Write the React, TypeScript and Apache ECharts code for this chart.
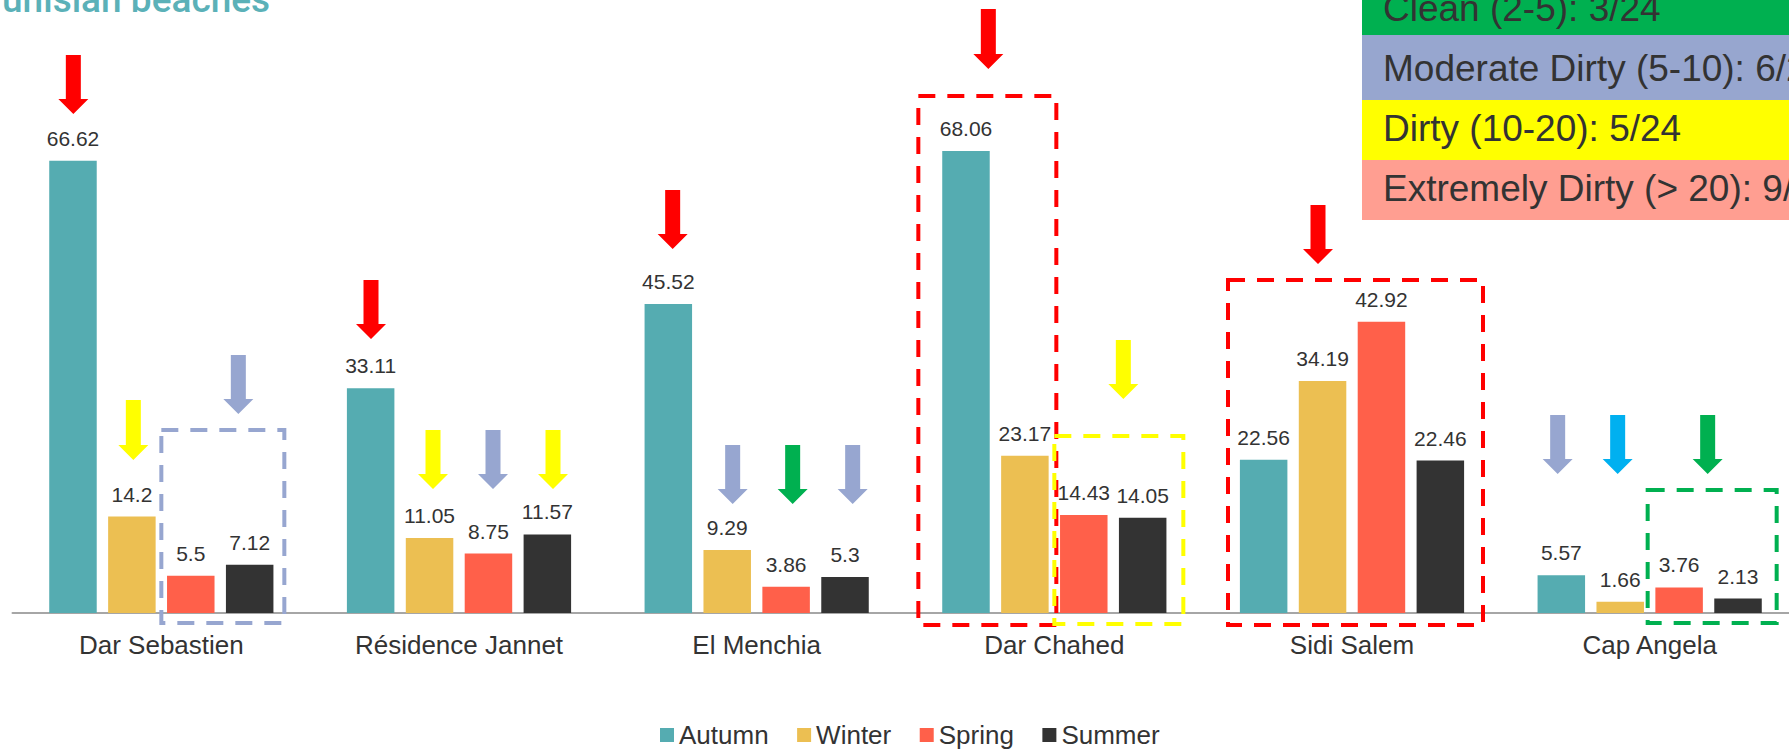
import React, { useEffect, useRef } from "react";
import * as echarts from "echarts";

const categories = ["Dar Sebastien", "Résidence Jannet", "El Menchia", "Dar Chahed", "Sidi Salem", "Cap Angela"];
const seasons = ["Autumn", "Winter", "Spring", "Summer"];
const autumn = [66.62, 33.11, 45.52, 68.06, 22.56, 5.57];
const winter = [14.2, 11.05, 9.29, 23.17, 34.19, 1.66];
const spring = [5.5, 8.75, 3.86, 14.43, 42.92, 3.76];
const summer = [7.12, 11.57, 5.3, 14.05, 22.46, 2.13];
const seasonValues = [autumn, winter, spring, summer];
const seasonColors = ["#55ACB1", "#ECBF52", "#FF604A", "#333333"];

const titleText = "Tunisian beaches";
const classLabels = [
  "Clean (2-5): 3/24",
  "Moderate Dirty (5-10): 6/24",
  "Dirty (10-20): 5/24",
  "Extremely Dirty (> 20): 9/24",
];
const classColors = ["#00B050", "#97A6CF", "#FFFF00", "#FF9E91"];

const RED = "#FF0000";
const YELLOW = "#FFFF00";
const PURPLE = "#97A6D0";
const GREEN = "#00B050";
const CYAN = "#00B0F0";

// arrows: category index, x offset from category centre, top y, tip y, colour
const arrows: [number, number, number, number, string][] = [
  [0, -88, 55, 114, RED],
  [0, -28, 400, 460, YELLOW],
  [0, 77, 355, 414, PURPLE],
  [1, -88, 280, 339, RED],
  [1, -26, 430, 489, YELLOW],
  [1, 34, 430, 489, PURPLE],
  [1, 94, 430, 489, YELLOW],
  [2, -84, 190, 249, RED],
  [2, -24, 445, 504, PURPLE],
  [2, 36, 445, 504, GREEN],
  [2, 96, 445, 504, PURPLE],
  [3, -66, 9, 69, RED],
  [3, 69, 340, 399, YELLOW],
  [4, -34, 205, 264, RED],
  [5, -92, 415, 474, PURPLE],
  [5, -32, 415, 474, CYAN],
  [5, 58, 415, 474, GREEN],
];

// dashed boxes: category index, left / right offsets from category centre, top, bottom, colour
const boxes: [number, number, number, number, number, string][] = [
  [0, 0, 123, 430, 623, PURPLE],
  [3, -136, 2, 96, 625, RED],
  [3, 0, 129, 436, 624, YELLOW],
  [4, -124, 131, 280, 625, RED],
  [5, -2, 127, 490, 623, GREEN],
];

const FONT = "'Liberation Sans', Arial, sans-serif";

export default function App() {
  const ref = useRef<HTMLDivElement>(null);
  useEffect(() => {
    if (!ref.current) return;
    const chart = echarts.init(ref.current, undefined, { renderer: "svg" });
    chart.setOption({
      animation: false,
      backgroundColor: "#ffffff",
      grid: {
        left: 12.5,
        width: 1786,
        top: 70,
        bottom: 137,
        containLabel: false,
        outerBoundsMode: "none",
      },
      legend: {
        data: seasons,
        left: 660,
        top: 722,
        padding: 0,
        icon: "rect",
        itemWidth: 14,
        itemHeight: 14,
        itemGap: 28.5,
        textStyle: { fontSize: 26, color: "#333333", fontFamily: FONT },
      },
      xAxis: {
        type: "category",
        data: categories,
        axisLine: { lineStyle: { color: "#A6A6A6", width: 2 } },
        axisTick: { show: false },
        axisLabel: { fontSize: 26, color: "#333333", margin: 19, fontFamily: FONT, interval: 0 },
      },
      yAxis: { type: "value", min: 0, max: 80, show: false, splitLine: { show: false } },
      series: seasons.map((name, i) => ({
        name,
        type: "bar",
        data: seasonValues[i],
        barWidth: 47.5,
        barGap: "24%",
        itemStyle: { color: seasonColors[i] },
        label: {
          show: true,
          position: "top",
          distance: 12,
          fontSize: 21,
          color: "#333333",
          fontFamily: FONT,
        },
      })),
    });

    const cx = (i: number) => chart.convertToPixel({ xAxisIndex: 0 }, categories[i]) as number;
    const graphics: any[] = [];
    graphics.push({
      type: "text",
      x: -19,
      y: -1,
      z: 20,
      style: {
        text: titleText,
        fill: "#5BB1B8",
        fontSize: 37,
        fontWeight: 500,
        fontFamily: "Roboto, 'Open Sans', sans-serif",
        align: "left",
        verticalAlign: "middle",
      },
    });
    const boxTops = [-30, 35, 100, 160];
    const boxBottoms = [35, 100, 160, 220];
    const baselines = [21.7, 81.7, 141.7, 201.7];
    classLabels.forEach((t, i) => {
      graphics.push({
        type: "rect",
        z: 20,
        shape: { x: 1362, y: boxTops[i], width: 460, height: boxBottoms[i] - boxTops[i] },
        style: { fill: classColors[i] },
      });
      graphics.push({
        type: "text",
        z: 21,
        x: 1383,
        y: baselines[i] - 12.9,
        style: {
          text: t,
          fill: "#333333",
          fontSize: 37,
          fontFamily: FONT,
          align: "left",
          verticalAlign: "middle",
        },
      });
    });
    arrows.forEach(([c, dx, top, tip, color]) => {
      const x = cx(c) + dx;
      const hs = 7.5;
      const hh = 15;
      const headH = 15;
      graphics.push({
        type: "polygon",
        z: 20,
        shape: {
          points: [
            [x - hs, top],
            [x + hs, top],
            [x + hs, tip - headH],
            [x + hh, tip - headH],
            [x, tip],
            [x - hh, tip - headH],
            [x - hs, tip - headH],
          ],
        },
        style: { fill: color },
      });
    });
    boxes.forEach(([c, l, r, top, bottom, color]) => {
      const center = cx(c);
      graphics.push({
        type: "rect",
        z: 22,
        shape: { x: center + l, y: top, width: r - l, height: bottom - top },
        style: { fill: "none", stroke: color, lineWidth: 4, lineDash: [17, 12] },
      });
    });
    chart.setOption({ graphic: graphics });

    return () => chart.dispose();
  }, []);
  return (
    <div style={{ position: "fixed", left: 0, top: 0, width: 1789, height: 750, overflow: "hidden", background: "#ffffff" }}>
      <div ref={ref} style={{ width: 1812, height: 750 }} />
    </div>
  );
}
